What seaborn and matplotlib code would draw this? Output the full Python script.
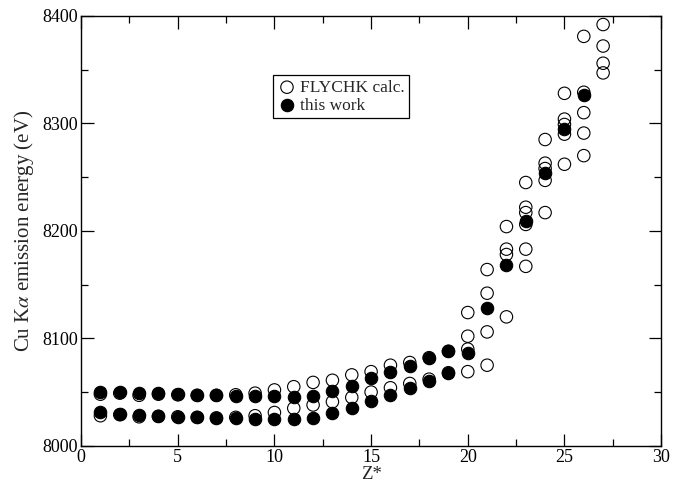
import matplotlib
matplotlib.use("Agg")
import matplotlib.pyplot as plt
from matplotlib.ticker import MultipleLocator
import seaborn as sns
import pandas as pd

# FLYCHK calculated Cu K-alpha energies (eV) versus mean charge Z*
flychk_z = [1, 1, 2, 2, 3, 3, 4, 4, 5, 5, 6, 6, 7, 7, 8, 8, 9, 9, 10, 10,
            11, 11, 12, 12, 13, 13, 14, 14, 15, 15, 16, 16, 17, 17, 18, 18,
            19, 19,
            20, 20, 20, 20,
            21, 21, 21, 21,
            22, 22, 22, 22,
            23, 23, 23, 23, 23, 23,
            24, 24, 24, 24, 24,
            25, 25, 25, 25, 25,
            26, 26, 26, 26, 26,
            27, 27, 27, 27]
flychk_e = [8048, 8028, 8049, 8029, 8047, 8027, 8048, 8027.5, 8047.5, 8027,
            8047, 8026.5, 8047, 8026, 8047.5, 8026.5, 8049, 8028, 8052, 8031,
            8055, 8035, 8059, 8038, 8061, 8041, 8066, 8045, 8069, 8050,
            8075, 8054, 8077.5, 8058, 8082, 8062, 8088, 8068,
            8124, 8102, 8090, 8069,
            8164, 8142, 8106, 8075,
            8204, 8183, 8178, 8120,
            8245, 8222, 8217, 8206, 8183, 8167,
            8285, 8263, 8258, 8247, 8217,
            8328, 8304, 8299, 8290, 8262,
            8381, 8329, 8310, 8291, 8270,
            8392, 8372, 8356, 8347]

# Present model
work_z = [1, 1, 2, 2, 3, 3, 4, 4, 5, 5, 6, 6, 7, 7, 8, 8, 9, 9, 10, 10,
          11, 11, 12, 12, 13, 13, 14, 14, 15, 15, 16, 16, 17, 17, 18, 18,
          19, 19, 20, 21, 22, 23, 24, 25, 26]
work_e = [8050, 8031, 8050, 8030, 8049, 8029, 8049, 8028, 8048, 8027,
          8047.5, 8026.5, 8047, 8026, 8046.5, 8025.5, 8046, 8025, 8046, 8024.5,
          8045.5, 8024.5, 8046, 8025.5, 8051, 8030.5, 8056, 8035.5, 8063, 8042,
          8069, 8047.5, 8074.5, 8053.5, 8081.5, 8060.5, 8088, 8067.5,
          8086, 8128, 8168, 8209, 8253.5, 8294.5, 8326]

flychk = pd.DataFrame({"Z*": flychk_z, "E": flychk_e})
work = pd.DataFrame({"Z*": work_z, "E": work_e})

sns.set_style("ticks")
plt.rcParams["font.family"] = ["Liberation Serif", "DejaVu Serif"]
plt.rcParams["mathtext.fontset"] = "stix"

fig = plt.figure(figsize=(6.93, 4.83), dpi=100)
ax = fig.add_axes([0.117, 0.077, 0.837, 0.890])

sns.scatterplot(data=flychk, x="Z*", y="E", ax=ax, marker="o", s=80,
                facecolor="none", edgecolor="black", linewidth=0.8,
                label="FLYCHK calc.", zorder=3)
sns.scatterplot(data=work, x="Z*", y="E", ax=ax, marker="o", s=80,
                color="black", edgecolor="black", linewidth=0.8,
                label="this work", zorder=4)

ax.set_xlim(0, 30)
ax.set_ylim(8000, 8400)
ax.xaxis.set_major_locator(MultipleLocator(5))
ax.xaxis.set_minor_locator(MultipleLocator(2.5))
ax.yaxis.set_major_locator(MultipleLocator(100))
ax.yaxis.set_minor_locator(MultipleLocator(50))
ax.tick_params(which="both", direction="in", top=True, right=True,
               labelsize=13, width=0.9, colors="black")
ax.tick_params(which="major", length=9, pad=2)
ax.tick_params(which="minor", length=5)
for sp in ax.spines.values():
    sp.set_linewidth(1.0)
    sp.set_color("black")

ax.set_xlabel("Z*", fontsize=13.5, labelpad=0)
ax.set_ylabel(r"Cu K$\alpha$ emission energy (eV)", fontsize=15, labelpad=5)

leg = ax.legend(loc="upper left", bbox_to_anchor=(0.331, 0.862), fontsize=12.5,
                frameon=True, fancybox=False, framealpha=1, edgecolor="black",
                handletextpad=0.2, borderpad=0.25, labelspacing=0.1,
                handlelength=1.1, borderaxespad=0)
leg.get_frame().set_linewidth(0.9)

fig.savefig("out.png", dpi=100)
